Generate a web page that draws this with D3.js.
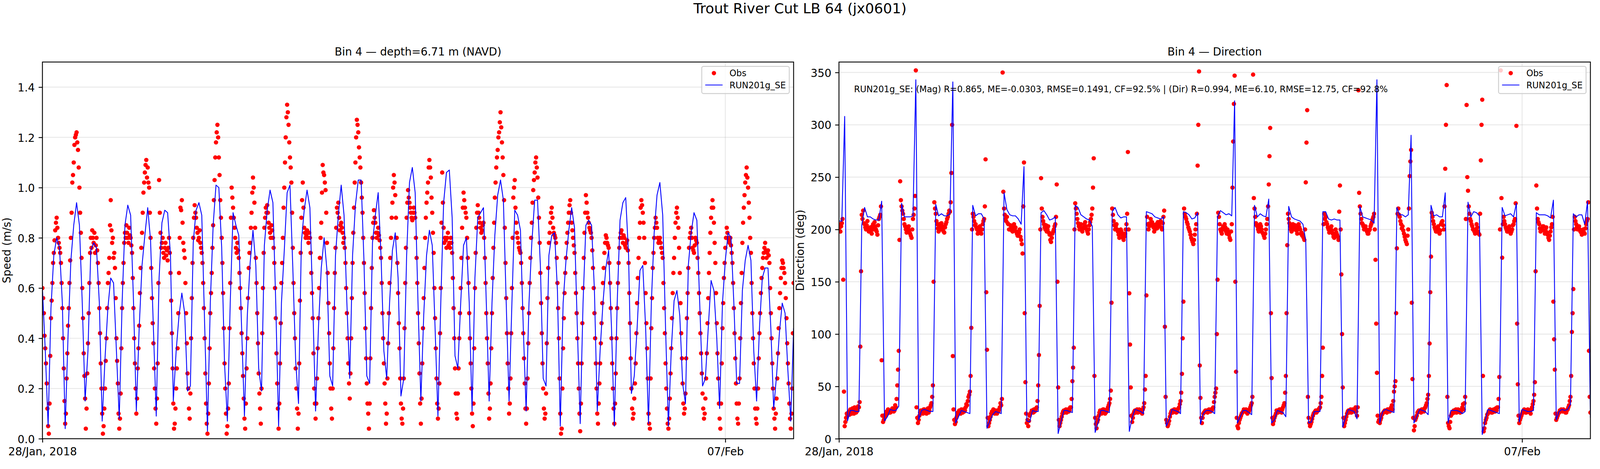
<!DOCTYPE html>
<html><head><meta charset="utf-8">
<script src="https://cdn.jsdelivr.net/npm/d3@7"></script>
<style>html,body{margin:0;padding:0;background:#fff;overflow:hidden;}svg{display:block;}text{font-family:"DejaVu Sans",sans-serif;}</style>
</head><body><div id="chart"></div>
<script>
// ---------------- DATA ----------------
const figTitle = "Trout River Cut LB 64 (jx0601)";
const speedTitle = "Bin 4 \u2014 depth=6.71 m (NAVD)";
const dirTitle = "Bin 4 \u2014 Direction";
const speedLabel = "Speed (m/s)";
const dirLabel = "Direction (deg)";
const seriesNames = ["Obs", "RUN201g_SE"];
const statsText = "RUN201g_SE: (Mag) R=0.865, ME=-0.0303, RMSE=0.1491, CF=92.5% | (Dir) R=0.994, ME=6.10, RMSE=12.75, CF=92.8%";
const startUTC = "2018-01-28T00:00:00Z";
const endUTC = "2018-02-08T00:00:00Z";
const modelStepHours = 1;
const obsStepHours = 0.25;
const xTickDates = ["2018-01-28T00:00:00Z", "2018-02-07T00:00:00Z"];
const xTickLabels = ["28/Jan, 2018", "07/Feb"];
const speedTicks = [0, 0.2, 0.4, 0.6, 0.8, 1.0, 1.2, 1.4];
const dirTicks = [0, 50, 100, 150, 200, 250, 300, 350];
const speedDomain = [0, 1.5];
const dirDomain = [0, 360];

// model, hourly from 28/Jan 00:00
const modelSpeed = [
0.60,0.35,0.05,0.52,0.73,0.80,0.76,0.54,0.04,0.41,0.71,0.85,
0.94,0.85,0.54,0.15,0.35,0.75,0.78,0.76,0.54,0.07,0.32,0.52,
0.64,0.62,0.35,0.08,0.54,0.85,0.93,0.89,0.55,0.11,0.44,0.69,
0.81,0.92,0.79,0.44,0.09,0.64,0.86,0.91,0.90,0.73,0.15,0.35,
0.49,0.58,0.50,0.19,0.21,0.78,0.91,0.94,0.89,0.46,0.03,0.54,
0.85,1.01,1.00,0.76,0.30,0.07,0.54,0.90,0.85,0.81,0.44,0.09,
0.49,0.70,0.83,0.69,0.28,0.19,0.77,0.91,0.99,0.94,0.54,0.05,
0.54,0.75,0.98,1.01,0.68,0.31,0.14,0.78,0.91,0.99,0.92,0.54,
0.11,0.44,0.68,0.80,0.67,0.25,0.21,0.73,0.89,1.01,0.89,0.54,
0.24,0.73,0.93,1.03,1.03,0.71,0.25,0.22,0.78,0.89,0.98,0.73,
0.35,0.24,0.54,0.75,0.82,0.64,0.17,0.24,0.73,1.02,1.08,0.98,
0.54,0.15,0.49,0.73,0.83,0.77,0.44,0.09,0.54,0.94,1.06,1.07,
0.88,0.33,0.28,0.54,0.77,0.80,0.54,0.11,0.64,0.88,0.90,0.92,
0.54,0.15,0.54,0.81,0.97,1.03,0.95,0.54,0.15,0.54,0.91,0.89,
0.83,0.44,0.11,0.54,0.78,0.95,0.95,0.69,0.24,0.21,0.73,0.81,
0.82,0.59,0.05,0.54,0.71,0.83,0.92,0.84,0.44,0.06,0.54,0.85,
0.87,0.85,0.59,0.11,0.35,0.54,0.68,0.75,0.44,0.05,0.54,0.87,
0.94,0.96,0.73,0.18,0.25,0.44,0.67,0.69,0.44,0.06,0.54,0.82,
0.97,1.02,0.89,0.44,0.05,0.35,0.55,0.59,0.49,0.22,0.14,0.69,
0.82,0.90,0.87,0.54,0.21,0.24,0.44,0.63,0.59,0.40,0.12,0.54,
0.71,0.82,0.80,0.54,0.22,0.22,0.59,0.71,0.77,0.71,0.35,0.15,
0.44,0.64,0.68,0.68,0.44,0.12,0.25,0.42,0.54,0.50,0.27,0.07,
0.44];

const modelDir = [
208,208,308,17,27,27,26,26,204,221,212,212,
210,209,209,227,17,21,28,27,27,31,225,212,
212,212,213,343,18,27,28,27,26,26,224,213,
215,213,213,215,341,15,21,27,26,25,24,223,
213,215,215,210,10,17,23,26,25,24,235,219,
214,213,213,210,205,260,17,16,27,26,26,216,
218,214,209,210,212,5,16,27,27,26,25,223,
221,214,212,210,209,203,6,15,27,27,26,25,
217,221,214,211,212,212,7,20,28,27,26,24,
217,216,215,212,211,210,212,12,18,28,27,26,
24,217,216,214,210,211,216,14,24,27,27,26,
24,212,218,216,214,215,213,323,15,21,27,27,
25,23,223,212,215,213,212,229,15,18,27,26,
25,21,222,212,210,209,208,205,189,15,16,26,
26,26,217,217,210,209,210,209,209,11,21,28,
27,26,19,222,212,211,210,209,206,343,15,26,
28,27,26,25,221,214,214,212,214,290,15,21,
28,27,26,23,223,213,214,212,212,235,15,27,
27,27,26,24,26,226,212,217,216,213,4,17,
28,27,26,25,24,221,213,214,215,212,225,16,
28,27,26,26,27,216,214,214,214,213,211,228,
18,26,28,27,28,33,215,212,214,214,205,227,
20];

// observations, every 15 min from 28/Jan 00:00 (one row = 12 hours)
const obsSpeed = [
0.60,0.56,0.50,0.41,0.36,0.30,0.22,0.12,0.05,0.02,0.14,0.33,0.48,0.55,0.62,0.70,0.74,0.79,0.83,0.86,0.88,0.84,0.80,0.78,0.76,0.74,0.70,0.62,0.52,0.40,0.28,0.15,0.06,0.10,0.24,0.34,0.45,0.52,0.62,0.71,0.80,0.90,1.02,1.05,1.10,1.17,1.20,1.21,
1.22,1.18,1.15,1.08,1.00,0.90,0.82,0.72,0.60,0.48,0.34,0.25,0.16,0.04,0.12,0.26,0.38,0.50,0.62,0.74,0.80,0.76,0.83,0.80,0.78,0.82,0.74,0.77,0.80,0.75,0.70,0.62,0.52,0.42,0.30,0.20,0.10,0.02,0.05,0.12,0.20,0.31,0.40,0.52,0.62,0.66,0.72,0.85,
0.95,0.83,0.78,0.80,0.72,0.74,0.68,0.56,0.40,0.31,0.22,0.10,0.04,0.08,0.18,0.36,0.52,0.62,0.70,0.78,0.82,0.80,0.85,0.82,0.80,0.78,0.84,0.81,0.80,0.77,0.74,0.64,0.52,0.40,0.30,0.20,0.10,0.16,0.28,0.36,0.45,0.58,0.68,0.76,0.82,0.90,0.98,1.02,
1.06,1.09,1.11,1.04,1.08,1.02,1.00,0.90,0.80,0.68,0.56,0.46,0.38,0.28,0.20,0.12,0.06,0.16,0.30,0.62,1.03,0.90,0.82,0.76,0.78,0.80,0.74,0.72,0.76,0.78,0.73,0.75,0.71,0.76,0.80,0.74,0.66,0.55,0.42,0.28,0.14,0.04,0.06,0.12,0.20,0.28,0.36,0.50,
0.66,0.80,0.92,0.91,0.95,0.86,0.78,0.75,0.72,0.62,0.50,0.38,0.26,0.20,0.12,0.08,0.18,0.40,0.56,0.70,0.80,0.88,0.93,0.90,0.88,0.84,0.82,0.79,0.80,0.83,0.78,0.76,0.74,0.70,0.62,0.52,0.40,0.26,0.14,0.06,0.02,0.10,0.22,0.36,0.50,0.58,0.66,0.76,
0.85,0.95,1.03,1.12,1.18,1.22,1.25,1.20,1.12,1.05,0.95,0.88,0.80,0.70,0.58,0.44,0.30,0.20,0.10,0.02,0.05,0.12,0.22,0.44,0.62,0.88,1.00,0.96,0.92,0.88,0.84,0.80,0.76,0.74,0.78,0.75,0.72,0.66,0.60,0.52,0.42,0.34,0.25,0.16,0.08,0.04,0.14,0.28,
0.40,0.56,0.68,0.74,0.78,0.84,0.90,0.98,1.04,1.00,0.94,0.84,0.72,0.62,0.50,0.38,0.26,0.18,0.12,0.06,0.20,0.42,0.60,0.74,0.84,0.88,0.92,0.90,0.93,0.90,0.86,0.84,0.82,0.80,0.85,0.83,0.80,0.76,0.70,0.60,0.48,0.34,0.22,0.12,0.04,0.14,0.30,0.46,
0.62,0.70,0.80,0.92,1.00,1.10,1.20,1.28,1.33,1.30,1.25,1.18,1.12,1.08,1.02,0.90,0.76,0.62,0.50,0.40,0.28,0.20,0.12,0.04,0.10,0.30,0.55,0.74,0.88,0.95,1.02,0.92,0.84,0.82,0.80,0.81,0.83,0.80,0.78,0.82,0.80,0.74,0.66,0.58,0.48,0.34,0.20,0.14,
0.08,0.14,0.24,0.36,0.48,0.60,0.72,0.80,0.86,0.98,1.09,1.06,1.05,1.02,0.99,0.90,0.78,0.66,0.54,0.42,0.30,0.20,0.12,0.08,0.20,0.36,0.52,0.66,0.76,0.84,0.92,0.90,0.94,0.88,0.83,0.85,0.86,0.84,0.82,0.78,0.80,0.76,0.70,0.60,0.50,0.40,0.30,0.22,
0.16,0.26,0.40,0.56,0.70,0.82,0.92,1.02,1.10,1.20,1.27,1.25,1.22,1.16,1.12,1.08,1.02,0.96,0.90,0.80,0.70,0.58,0.44,0.32,0.22,0.14,0.10,0.04,0.14,0.32,0.52,0.68,0.80,0.86,0.91,0.88,0.86,0.82,0.80,0.82,0.84,0.81,0.79,0.76,0.72,0.62,0.50,0.40,
0.30,0.22,0.14,0.06,0.10,0.24,0.38,0.50,0.62,0.72,0.80,0.88,0.94,1.00,1.05,1.02,0.97,0.88,0.80,0.70,0.58,0.46,0.36,0.24,0.14,0.08,0.06,0.12,0.24,0.44,0.62,0.76,0.88,0.94,0.99,0.96,0.94,0.92,0.90,0.88,0.87,0.90,0.92,0.90,0.88,0.80,0.72,0.62,
0.50,0.38,0.26,0.14,0.06,0.16,0.30,0.44,0.56,0.68,0.80,0.88,0.94,0.98,1.02,1.08,1.11,1.08,1.04,0.96,0.90,0.82,0.74,0.60,0.48,0.36,0.24,0.14,0.08,0.12,0.22,0.42,0.60,0.86,1.06,0.94,0.84,0.78,0.80,0.79,0.76,0.80,0.82,0.77,0.78,0.76,0.80,0.78,
0.74,0.64,0.52,0.40,0.28,0.18,0.10,0.08,0.18,0.28,0.40,0.50,0.60,0.72,0.84,0.92,0.98,0.95,0.92,0.90,0.88,0.80,0.72,0.62,0.50,0.40,0.30,0.20,0.10,0.05,0.14,0.36,0.60,0.74,0.84,0.90,0.93,0.90,0.88,0.86,0.84,0.82,0.83,0.85,0.86,0.80,0.72,0.62,
0.50,0.40,0.30,0.18,0.08,0.12,0.22,0.36,0.50,0.64,0.76,0.86,0.96,1.02,1.08,1.12,1.15,1.20,1.22,1.26,1.30,1.24,1.18,1.12,1.05,0.95,0.84,0.70,0.56,0.42,0.30,0.20,0.10,0.14,0.24,0.42,0.60,0.80,0.96,1.00,1.03,0.92,0.86,0.82,0.80,0.78,0.76,0.75,
0.74,0.70,0.62,0.52,0.42,0.32,0.22,0.12,0.06,0.12,0.24,0.38,0.50,0.62,0.72,0.80,0.86,0.94,0.99,1.03,1.06,1.10,1.12,1.08,1.04,0.96,0.88,0.78,0.66,0.54,0.42,0.30,0.20,0.12,0.08,0.10,0.18,0.38,0.56,0.68,0.78,0.82,0.86,0.90,0.92,0.88,0.84,0.82,
0.81,0.80,0.78,0.72,0.62,0.52,0.40,0.24,0.10,0.02,0.04,0.20,0.36,0.48,0.58,0.66,0.72,0.78,0.82,0.86,0.90,0.93,0.95,0.90,0.86,0.83,0.80,0.77,0.74,0.66,0.58,0.50,0.40,0.30,0.20,0.10,0.03,0.14,0.30,0.46,0.60,0.72,0.82,0.90,0.97,0.94,0.90,0.88,
0.86,0.84,0.83,0.82,0.80,0.75,0.68,0.60,0.50,0.40,0.30,0.20,0.10,0.06,0.14,0.22,0.30,0.38,0.46,0.54,0.62,0.68,0.74,0.78,0.81,0.80,0.78,0.77,0.76,0.70,0.62,0.52,0.40,0.30,0.20,0.12,0.06,0.14,0.26,0.40,0.52,0.62,0.70,0.76,0.80,0.82,0.83,0.80,
0.78,0.81,0.80,0.77,0.76,0.78,0.79,0.75,0.70,0.58,0.46,0.32,0.20,0.12,0.08,0.10,0.16,0.22,0.30,0.42,0.54,0.64,0.72,0.80,0.86,0.92,0.95,0.93,0.90,0.86,0.80,0.70,0.58,0.46,0.36,0.24,0.10,0.06,0.04,0.24,0.44,0.56,0.68,0.74,0.80,0.84,0.88,0.86,
0.84,0.80,0.78,0.79,0.80,0.78,0.76,0.74,0.72,0.62,0.52,0.42,0.30,0.20,0.12,0.06,0.04,0.08,0.16,0.26,0.36,0.48,0.58,0.66,0.72,0.80,0.86,0.90,0.92,0.88,0.84,0.76,0.66,0.54,0.42,0.32,0.22,0.14,0.10,0.12,0.18,0.32,0.48,0.58,0.68,0.76,0.80,0.82,
0.84,0.80,0.76,0.75,0.74,0.77,0.80,0.79,0.78,0.72,0.66,0.58,0.50,0.42,0.34,0.26,0.18,0.12,0.08,0.10,0.16,0.24,0.34,0.46,0.56,0.66,0.74,0.82,0.88,0.92,0.95,0.92,0.86,0.78,0.70,0.58,0.46,0.34,0.24,0.14,0.08,0.04,0.14,0.30,0.44,0.54,0.64,0.70,
0.76,0.80,0.84,0.82,0.80,0.79,0.78,0.80,0.77,0.74,0.70,0.62,0.52,0.42,0.32,0.22,0.14,0.08,0.06,0.14,0.24,0.40,0.54,0.66,0.78,0.86,0.92,0.97,1.02,1.05,1.08,1.04,1.00,0.94,0.88,0.80,0.74,0.62,0.50,0.40,0.30,0.20,0.12,0.08,0.06,0.12,0.20,0.32,
0.42,0.50,0.58,0.64,0.68,0.72,0.74,0.76,0.78,0.75,0.72,0.74,0.75,0.73,0.70,0.60,0.50,0.40,0.30,0.20,0.12,0.08,0.04,0.10,0.16,0.24,0.34,0.44,0.52,0.58,0.64,0.68,0.71,0.70,0.68,0.66,0.62,0.56,0.48,0.38,0.30,0.22,0.14,0.08,0.04,0.10,0.20,0.42,
0.62];

const obsDir = [
205,202,198,203,206,210,152,45,12,16,20,24,22,25,26,23,28,27,24,29,26,24,30,28,25,26,27,31,30,35,88,160,214,210,218,206,205,202,200,204,208,201,198,200,202,199,196,203,
205,200,207,203,200,198,195,204,210,212,214,222,75,22,16,18,20,23,22,26,24,28,27,25,25,27,26,29,28,26,27,32,30,38,51,66,84,190,246,228,222,218,215,210,205,203,200,197,
198,201,203,199,196,194,192,200,210,214,220,232,352,30,20,15,18,22,25,27,27,26,24,28,28,25,26,24,27,29,25,27,30,32,34,40,51,150,226,220,215,208,205,201,198,205,203,200,
206,203,200,198,197,202,205,207,210,212,215,218,217,226,254,300,79,28,18,14,16,20,22,25,24,27,26,24,28,26,25,28,26,27,30,33,32,36,40,42,45,60,106,200,215,212,208,204,
205,202,200,196,198,201,203,199,196,200,205,208,210,222,267,140,85,20,12,15,18,21,24,26,25,28,26,24,27,25,24,27,26,28,30,34,32,38,350,236,220,214,210,208,212,206,205,200,
200,204,203,199,198,202,205,200,202,198,196,194,195,197,200,193,190,186,177,222,264,120,54,24,15,18,12,17,22,24,25,27,26,25,28,26,27,29,30,36,51,80,127,200,249,220,212,208,
205,202,200,204,198,200,203,197,195,190,188,192,196,198,200,203,205,212,243,150,49,18,12,15,18,21,24,26,27,25,26,28,25,27,28,26,27,30,30,38,55,68,87,200,225,220,215,210,
206,203,200,202,205,200,198,201,202,205,207,203,200,198,196,200,204,207,210,214,220,240,268,60,20,14,10,16,18,22,25,27,27,24,26,28,28,26,24,25,26,28,30,32,34,38,46,130,
220,214,208,204,200,203,205,200,198,195,192,197,200,198,195,192,190,193,196,200,205,215,274,200,139,90,49,22,16,20,24,26,27,25,26,28,25,27,28,26,27,25,24,28,30,34,47,60,
137,212,205,200,203,206,210,204,207,205,202,198,200,203,205,201,207,204,203,206,208,202,200,206,212,218,107,40,18,15,12,14,17,21,24,26,27,25,26,28,28,27,25,26,26,29,30,33,
36,44,62,96,131,220,215,212,210,207,205,202,200,198,195,192,190,188,186,190,195,200,205,215,261,300,351,70,39,20,15,20,24,25,26,27,27,26,25,27,28,26,26,28,27,29,30,35,
40,44,48,100,152,216,212,205,200,198,196,201,203,200,205,202,198,196,200,197,195,192,190,198,205,240,284,320,347,150,64,20,12,10,15,18,20,22,24,25,26,28,27,26,28,25,24,27,
26,28,30,32,34,40,348,230,220,212,206,204,203,200,198,202,205,203,200,197,196,194,192,196,200,205,210,222,243,270,297,120,58,20,14,17,20,22,24,27,27,25,26,28,28,26,25,28,
30,32,34,44,60,120,185,215,210,206,203,200,198,202,205,201,200,204,203,199,196,200,205,202,200,196,197,194,195,192,190,200,245,283,314,40,20,15,12,14,16,19,22,24,25,26,27,25,
26,27,28,29,30,34,40,60,87,205,215,210,212,207,205,202,200,197,198,201,203,199,196,193,192,196,200,197,195,193,190,217,242,200,157,100,49,20,12,15,18,21,24,26,27,25,26,28,
25,27,28,26,26,28,30,26,22,30,333,235,222,215,210,206,205,203,200,202,203,200,198,196,196,199,200,203,205,207,210,212,215,200,171,110,63,22,16,18,15,18,20,23,24,25,26,27,
27,26,25,28,28,27,26,28,30,32,28,36,45,50,55,120,182,215,220,214,212,208,205,201,203,199,196,193,190,188,186,194,200,220,251,265,276,130,57,20,8,12,18,20,22,25,26,27,
27,26,25,28,28,27,26,29,30,32,34,38,42,60,91,140,174,216,212,208,205,202,200,198,198,201,203,200,196,199,205,207,208,204,200,222,258,300,338,40,15,12,10,16,22,24,24,26,
27,25,26,28,25,27,28,26,27,25,26,28,30,33,28,34,40,210,319,250,237,222,215,210,208,205,203,200,200,198,196,200,205,202,198,196,195,215,266,300,324,60,7,10,15,18,20,23,
24,26,26,28,27,25,25,27,28,26,26,29,27,30,30,38,59,200,352,230,173,205,212,208,205,202,200,198,198,201,203,199,196,198,200,204,205,208,210,225,299,110,52,22,15,18,20,22,
24,26,26,28,27,25,25,27,28,26,26,25,24,28,30,33,36,42,54,160,242,220,210,207,205,201,198,200,200,203,203,199,196,199,202,197,195,192,190,194,198,202,205,212,131,95,66,24,
18,20,22,24,25,27,26,28,27,26,28,27,26,25,25,27,28,30,32,36,40,60,102,120,143,200,212,208,205,202,200,203,203,200,198,197,195,198,200,197,196,201,205,208,210,226,84,40,
25];

// ---------------- DRAWING ----------------
// Reference layout is 5000 x 1200; positions are scaled to the actual viewport.
const REFW = 5000, REFH = 1200;
const VW = window.innerWidth || REFW, VH = window.innerHeight || REFH;
const sx = VW / REFW, sy = VH / REFH, s = sy;
const X = v => v * sx, Y = v => v * sy;
const PT = 200 / 72 * s;               // px per point
const tickFont = 10 * PT, smallFont = 8 * PT;
const TOP = Y(158.7), BOTTOM = Y(1122.5);

const svg = d3.select("#chart").append("svg").attr("width", VW).attr("height", VH);
svg.append("rect").attr("width", VW).attr("height", VH).attr("fill", "#fff");

const t0 = Date.parse(startUTC);
const modelTimes = modelSpeed.map((_, i) => new Date(t0 + i * modelStepHours * 3600e3));
const obsTimes = obsSpeed.map((_, i) => new Date(t0 + i * obsStepHours * 3600e3));

svg.append("text").attr("x", VW / 2).attr("y", Y(33.5)).attr("text-anchor", "middle")
  .attr("font-size", 13 * PT).attr("fill", "#000").text(figTitle);

function drawPanel(cfg, idx) {
  const left = X(cfg.left), right = X(cfg.right);
  const x = d3.scaleUtc().domain([new Date(startUTC), new Date(endUTC)]).range([left, right]);
  const y = d3.scaleLinear().domain(cfg.yDomain).range([BOTTOM, TOP]);
  const g = svg.append("g");
  const clipId = "clip" + idx;
  g.append("clipPath").attr("id", clipId).append("rect")
    .attr("x", left).attr("y", TOP).attr("width", right - left).attr("height", BOTTOM - TOP);

  // grid
  const grid = g.append("g").attr("stroke", "#b0b0b0").attr("stroke-opacity", 0.3).attr("stroke-width", 0.8 * PT);
  grid.selectAll("line.h").data(cfg.yTicks).join("line").attr("class", "h")
    .attr("x1", left).attr("x2", right).attr("y1", d => y(d)).attr("y2", d => y(d));
  grid.selectAll("line.v").data(xTickDates).join("line").attr("class", "v")
    .attr("x1", d => x(new Date(d))).attr("x2", d => x(new Date(d))).attr("y1", TOP).attr("y2", BOTTOM);

  const data = g.append("g").attr("clip-path", `url(#${clipId})`);
  // observations
  data.append("g").attr("fill", "#ff0000").selectAll("circle").data(cfg.obs).join("circle")
    .attr("cx", (d, i) => x(obsTimes[i])).attr("cy", d => y(d)).attr("r", 2 * PT);
  // model
  const line = d3.line().x((d, i) => x(modelTimes[i])).y(d => y(d));
  data.append("path").datum(cfg.model).attr("d", line).attr("fill", "none")
    .attr("stroke", "#0000ff").attr("stroke-width", 0.8 * PT).attr("stroke-linejoin", "round");

  // axes
  const yAxis = d3.axisLeft(y).tickValues(cfg.yTicks).tickFormat(cfg.fmt).tickSize(3.5 * PT).tickPadding(3.5 * PT);
  const ya = g.append("g").attr("transform", `translate(${left},0)`).call(yAxis);
  const xAxis = d3.axisBottom(x).tickValues(xTickDates.map(d => new Date(d)))
    .tickFormat((d, i) => xTickLabels[i]).tickSize(3.5 * PT).tickPadding(3.5 * PT);
  const xa = g.append("g").attr("transform", `translate(0,${BOTTOM})`).call(xAxis);
  [ya, xa].forEach(a => {
    a.select(".domain").remove();
    a.selectAll(".tick line").attr("stroke", "#000").attr("stroke-width", 0.8 * PT);
    a.selectAll(".tick text").attr("font-size", tickFont).attr("fill", "#000")
      .attr("font-family", "DejaVu Sans");
  });
  ya.selectAll(".tick text").attr("dy", "0.38em");
  xa.selectAll(".tick text").attr("dy", "0.83em");

  // spines
  g.append("rect").attr("x", left).attr("y", TOP).attr("width", right - left)
    .attr("height", BOTTOM - TOP).attr("fill", "none").attr("stroke", "#000").attr("stroke-width", 0.8 * PT);

  // titles
  g.append("text").attr("x", (left + right) / 2).attr("y", Y(141.7)).attr("text-anchor", "middle")
    .attr("font-size", tickFont).attr("fill", "#000").text(cfg.title);
  g.append("text").attr("transform", `translate(${left - cfg.labelOff * s},${(TOP + BOTTOM) / 2}) rotate(-90)`)
    .attr("text-anchor", "middle").attr("font-size", tickFont).attr("fill", "#000").text(cfg.ylabel);

  // legend
  const lw = 224 * s, lh = 69.5 * s, lx = right - 11.1 * s - lw, ly = TOP + 11.1 * s;
  const lg = g.append("g");
  lg.append("rect").attr("x", lx).attr("y", ly).attr("width", lw).attr("height", lh)
    .attr("rx", 4.4 * s).attr("ry", 4.4 * s).attr("fill", "#fff").attr("fill-opacity", 0.8)
    .attr("stroke", "#cccccc").attr("stroke-width", 0.8 * PT);
  const rows = [ly + 17.3 * s, ly + 47.7 * s];
  lg.append("circle").attr("cx", lx + 31.1 * s).attr("cy", rows[0]).attr("r", 2 * PT).attr("fill", "#ff0000");
  lg.append("line").attr("x1", lx + 8.9 * s).attr("x2", lx + 53.3 * s).attr("y1", rows[1]).attr("y2", rows[1])
    .attr("stroke", "#0000ff").attr("stroke-width", 0.8 * PT);
  lg.selectAll("text").data(seriesNames).join("text")
    .attr("x", lx + 71.1 * s).attr("y", (d, i) => rows[i]).attr("dy", "0.36em")
    .attr("font-size", smallFont).attr("fill", "#000").text(d => d);

  if (cfg.note) {
    g.append("text").attr("x", left + 0.02 * (right - left)).attr("y", Y(236))
      .attr("font-size", smallFont).attr("fill", "#000").text(cfg.note);
  }
}

drawPanel({left: 132.6, right: 2480, yDomain: speedDomain, yTicks: speedTicks, fmt: d3.format(".1f"),
  obs: obsSpeed, model: modelSpeed, title: speedTitle, ylabel: speedLabel, labelOff: 81.3}, 0);
drawPanel({left: 2621.8, right: 4970, yDomain: dirDomain, yTicks: dirTicks, fmt: d3.format("d"),
  obs: obsDir, model: modelDir, title: dirTitle, ylabel: dirLabel, labelOff: 90.2, note: statsText}, 1);
</script></body></html>
